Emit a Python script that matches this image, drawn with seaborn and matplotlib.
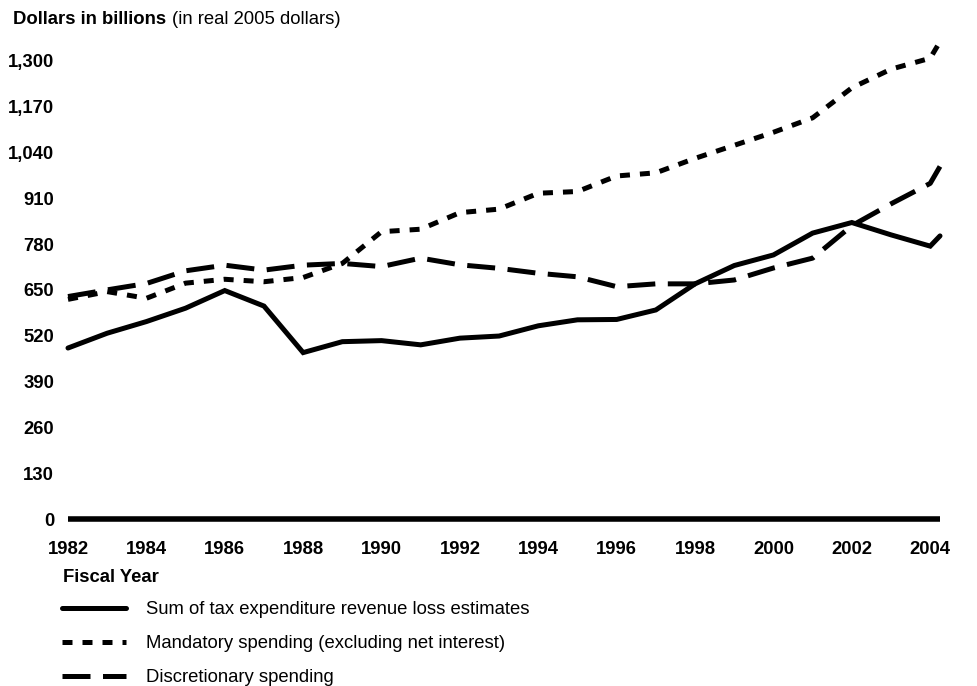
import matplotlib
matplotlib.use("Agg")
import matplotlib.pyplot as plt
import seaborn as sns
import pandas as pd

# ---- data ----
fiscal_year = [1982, 1983, 1984, 1985, 1986, 1987, 1988, 1989, 1990, 1991, 1992,
               1993, 1994, 1995, 1996, 1997, 1998, 1999, 2000, 2001, 2002, 2003,
               2004, 2004.25]
tax_expenditures = [485, 527, 560, 598, 648, 604, 472, 503, 506, 494, 513,
                    519, 548, 565, 566, 593, 667, 719, 749, 811, 841, 806,
                    774, 803]
mandatory_spending = [623, 645, 626, 669, 680, 673, 685, 725, 815, 822, 869,
                      879, 924, 929, 973, 982, 1023, 1060, 1097, 1138, 1223, 1276,
                      1307, 1354]
discretionary_spending = [631, 650, 668, 704, 720, 706, 720, 725, 716, 740, 721,
                          711, 697, 687, 659, 667, 667, 678, 712, 740, 832, 894,
                          952, 1000]
series_labels = ["Sum of tax expenditure revenue loss estimates",
                 "Mandatory spending (excluding net interest)",
                 "Discretionary spending"]
y_ticks = [0, 130, 260, 390, 520, 650, 780, 910, 1040, 1170, 1300]
x_ticks = [1982, 1984, 1986, 1988, 1990, 1992, 1994, 1996, 1998, 2000, 2002, 2004]

df = pd.DataFrame({"year": fiscal_year,
                   series_labels[0]: tax_expenditures,
                   series_labels[1]: mandatory_spending,
                   series_labels[2]: discretionary_spending})

sns.set_theme(style="white")
plt.rcParams["font.family"] = ["Liberation Sans", "DejaVu Sans"]
plt.rcParams["text.color"] = "black"
plt.rcParams["xtick.color"] = "black"
plt.rcParams["ytick.color"] = "black"

FS = 13.3
W, H = 978, 686
fig = plt.figure(figsize=(W / 100, H / 100), dpi=100)
fig.patch.set_facecolor("white")

# axes placement in pixels
ax_left, ax_right = 68, 940
y0_px = 519
px_per_unit = (519 - 60.7) / 1300
ymax = 1380
ax_top = y0_px - ymax * px_per_unit
ax = fig.add_axes([ax_left / W, (H - y0_px) / H, (ax_right - ax_left) / W,
                   (y0_px - ax_top) / H])
ax.set_facecolor("white")

lw = 3.6
styles = [
    dict(linestyle="-"),
    dict(linestyle=(0, (2.0, 2.0))),
    dict(linestyle=(0, (5.6, 2.5))),
]
handles = []
for label, st in zip(series_labels, styles):
    sns.lineplot(data=df, x="year", y=label, ax=ax, color="black", linewidth=lw,
                 sort=False, clip_on=False, solid_joinstyle="miter",
                 dash_capstyle="butt", **st)
    handles.append(ax.lines[-1])

ax.axhline(0, color="black", linewidth=4, clip_on=False, solid_capstyle="butt")

ax.set_xlim(1982, 2004.25)
ax.set_ylim(0, ymax)
ax.set_yticks(y_ticks)
ax.set_yticklabels([f"{v:,}" for v in y_ticks], fontweight="bold", fontsize=FS)
ax.set_xticks(x_ticks)
ax.set_xticklabels([str(v) for v in x_ticks], fontweight="bold", fontsize=FS)
ax.tick_params(axis="y", length=0, pad=10)
ax.tick_params(axis="x", length=0, pad=16)
ax.set_xlabel("")
ax.set_ylabel("")
for s in ax.spines.values():
    s.set_visible(False)

# title
fig.text(13 / W, 1 - 20 / H, "Dollars in billions", fontweight="bold",
         fontsize=FS, va="center", ha="left")
fig.text(172 / W, 1 - 20 / H, "(in real 2005 dollars)", fontsize=FS,
         va="center", ha="left")

# legend
fig.text(63 / W, 1 - 577 / H, "Fiscal Year", fontweight="bold", fontsize=FS,
         va="center", ha="left")
leg = fig.legend(handles, series_labels, loc="upper left",
                 bbox_to_anchor=(62 / W, 1 - 601 / H), frameon=False,
                 fontsize=FS, handlelength=3.45, handletextpad=1.08,
                 labelspacing=0.92, borderpad=0, borderaxespad=0)
for t in leg.get_texts():
    t.set_color("black")

fig.savefig("out.png", dpi=100, facecolor="white")
